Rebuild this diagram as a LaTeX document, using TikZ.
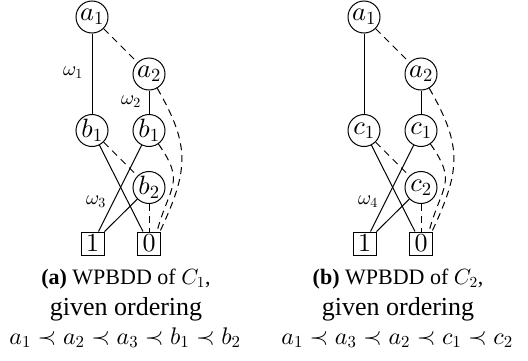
\documentclass[tikz,border=0pt]{standalone}
\usepackage[no-math]{fontspec}
\setmainfont{Liberation Serif}
\DeclareFontShape{OML}{cmm}{m}{it}{<->cmmi10}{}
\DeclareFontShape{OMS}{cmsy}{m}{n}{<->cmsy10}{}
\DeclareFontShape{OT1}{cmr}{m}{n}{<->cmr10}{}
\begin{document}
\begin{tikzpicture}[x=1pt,y=1pt,
  vnode/.style={circle,draw,line width=1pt,minimum size=32pt,inner sep=0pt,font=\fontsize{26.5}{30}\selectfont},
  tnode/.style={rectangle,draw,line width=1pt,minimum size=23pt,inner sep=0pt,font=\fontsize{26}{30}\selectfont},
  hi/.style={line width=1pt},
  lo/.style={line width=1pt,dash pattern=on 7pt off 5pt},
  wlab/.style={font=\fontsize{20}{22}\selectfont,inner sep=0pt},
  capa/.style={anchor=base,inner sep=0pt,font=\fontsize{22}{26}\selectfont},
  capb/.style={anchor=base,inner sep=0pt,font=\fontsize{26}{30}\selectfont},
  capc/.style={anchor=base,inner sep=0pt,font=\fontsize{24}{30}\selectfont}]
\useasboundingbox (0,0) rectangle (528,360);
% ---------- left diagram ----------
\begin{scope}
\node[vnode] (la1) at (92,343) {$a_1$};
\node[vnode] (la2) at (149,286) {$a_2$};
\node[vnode] (lb1) at (92,229.5) {$b_1$};
\node[vnode] (lb1r) at (149,229.5) {$b_1$};
\node[vnode] (lb2) at (149,172.5) {$b_2$};
\node[tnode] (lt1) at (92.5,116.5) {$1$};
\node[tnode] (lt0) at (149,116.5) {$0$};
\draw[hi] (la1) -- (lb1);
\draw[lo] (la1) -- (la2);
\draw[hi] (la2) -- (lb1r);
\draw[lo] (la2) to[out=-60,in=65,looseness=1.2] ([xshift=-1pt]lt0.north east);
\draw[hi] (lb1) -- (lt0);
\draw[lo] (lb1) -- (lb2);
\draw[hi] (lb1r) -- (lt1);
\draw[lo] (lb1r) to[out=-55,in=75,looseness=1.4] ([xshift=-4pt]lt0.north east);
\draw[hi] (lb2) -- (lt1);
\draw[lo] (lb2) -- (lt0);
\node[wlab] (lw1) at (73,287) {$\omega_1$};
\node[wlab] (lw2) at (131,258) {$\omega_2$};
\node[wlab] (lw3) at (96,158) {$\omega_3$};
\node[capa] (lc1) at (126,76) {\textbf{(a)} WPBDD of $C_1$,};
\node[capb] (lc2) at (126,45) {given ordering};
\node[capc] (lc3) at (125,16) {$a_1 \prec a_2 \prec a_3 \prec b_1 \prec b_2$};
\end{scope}
% ---------- right diagram ----------
\begin{scope}[xshift=272pt]
\node[vnode] (ra1) at (92,343) {$a_1$};
\node[vnode] (ra2) at (149,286) {$a_2$};
\node[vnode] (rc1) at (92,229.5) {$c_1$};
\node[vnode] (rc1r) at (149,229.5) {$c_1$};
\node[vnode] (rc2) at (149,172.5) {$c_2$};
\node[tnode] (rt1) at (92.5,116.5) {$1$};
\node[tnode] (rt0) at (149,116.5) {$0$};
\draw[hi] (ra1) -- (rc1);
\draw[lo] (ra1) -- (ra2);
\draw[hi] (ra2) -- (rc1r);
\draw[lo] (ra2) to[out=-60,in=65,looseness=1.2] ([xshift=-1pt]rt0.north east);
\draw[hi] (rc1) -- (rt0);
\draw[lo] (rc1) -- (rc2);
\draw[hi] (rc1r) -- (rt1);
\draw[lo] (rc1r) to[out=-55,in=75,looseness=1.4] ([xshift=-4pt]rt0.north east);
\draw[hi] (rc2) -- (rt1);
\draw[lo] (rc2) -- (rt0);
\node[wlab] (rw4) at (96,158) {$\omega_4$};
\node[capa] (rc1cap) at (126,76) {\textbf{(b)} WPBDD of $C_2$,};
\node[capb] (rc2cap) at (126,45) {given ordering};
\node[capc] (rc3cap) at (125,16) {$a_1 \prec a_3 \prec a_2 \prec c_1 \prec c_2$};
\end{scope}
\end{tikzpicture}
\end{document}
